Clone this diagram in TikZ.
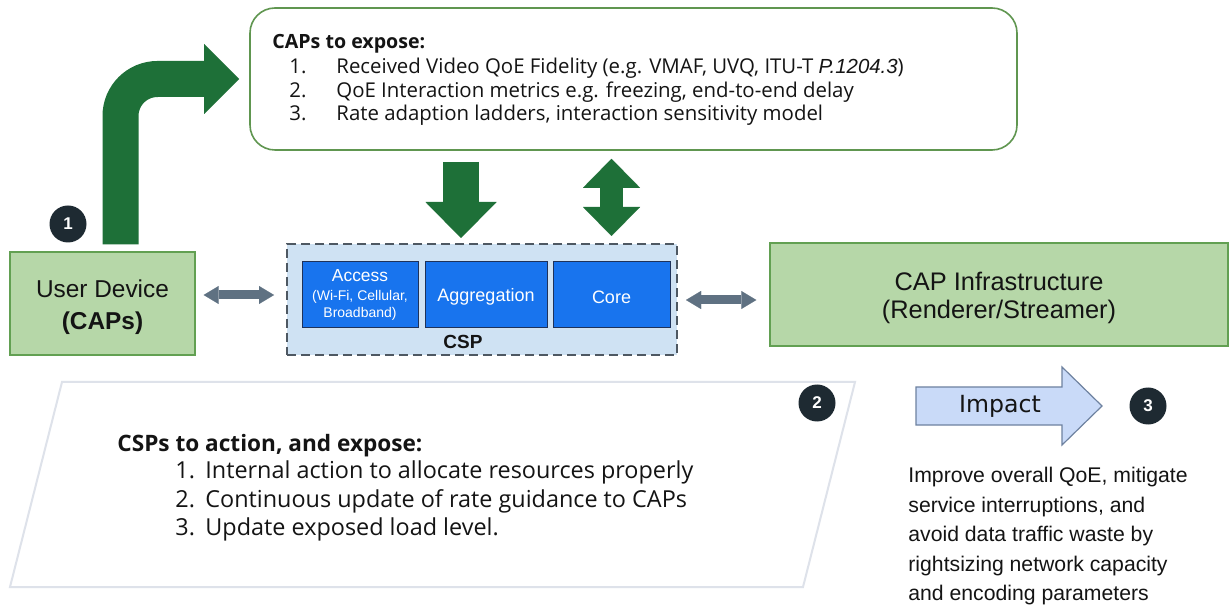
\documentclass[tikz,border=0pt]{standalone}
\usepackage{fontspec}
\setmainfont{Liberation Sans}
\newfontfamily\listfont{Open Sans}
\newfontfamily\impactfont{DejaVu Sans}
\usetikzlibrary{arrows.meta, calc, positioning}

\definecolor{devgreen}{RGB}{182,215,168}
\definecolor{devedge}{RGB}{98,160,82}
\definecolor{boxedge}{RGB}{96,150,80}
\definecolor{arrowgreen}{RGB}{30,112,56}
\definecolor{cspfill}{RGB}{207,226,243}
\definecolor{cspedge}{RGB}{78,88,98}
\definecolor{blockblue}{RGB}{24,116,238}
\definecolor{blockedge}{RGB}{30,50,90}
\definecolor{linkgray}{RGB}{95,113,130}
\definecolor{badgecol}{RGB}{30,42,50}
\definecolor{impactfill}{RGB}{201,218,248}
\definecolor{impactedge}{RGB}{110,130,160}
\definecolor{paraedge}{RGB}{222,226,234}
\definecolor{textdark}{RGB}{20,20,20}

\tikzset{
  greenbox/.style={draw=devedge, fill=devgreen, line width=0.7pt, align=center, inner sep=0pt, text=textdark},
  blockbox/.style={draw=blockedge, fill=blockblue, text=white, line width=0.5pt, align=center, inner sep=0pt, minimum height=33pt},
  badge/.style={circle, fill=badgecol, text=white, minimum size=18.5pt, inner sep=0pt, font=\bfseries\fontsize{8.5}{8.5}\selectfont},
  toplist/.style={anchor=base west, inner sep=0pt, text=textdark, font=\listfont\fontsize{10.2}{11}\selectfont},
  botlist/.style={anchor=base west, inner sep=0pt, text=textdark, font=\listfont\fontsize{11.7}{13}\selectfont},
  linkarrow/.style={draw=linkgray, line width=4.5pt,
    {Triangle[length=7.5pt, width=9pt, line width=0.01pt]}-{Triangle[length=7.5pt, width=9pt, line width=0.01pt]}},
}

\begin{document}
\begin{tikzpicture}[x=0.5pt, y=-0.5pt]
  \fill[white] (0,0) rectangle (1229,608);
  \useasboundingbox (0,0) rectangle (1229,608);

  % what the CAPs expose
  \node[draw=boxedge, line width=0.8pt, rounded corners=12.5pt, minimum width=383.5pt, minimum height=71pt] (expose) at (633.5,79) {};
  \node[toplist, font=\listfont\fontsize{9.8}{11}\selectfont] (exptitle) at (272,49) {\bfseries CAPs to expose:};
  \node[toplist] (expn1) at (289,74) {1.};
  \node[toplist] (expi1) at (336,74) {Received Video QoE Fidelity (e.g. VMAF, UVQ, ITU-T {\rmfamily\itshape P.1204.3})};
  \node[toplist] (expn2) at (289,98) {2.};
  \node[toplist] (expi2) at (336,98) {QoE Interaction metrics e.g. freezing, end-to-end delay};
  \node[toplist] (expn3) at (289,121) {3.};
  \node[toplist] (expi3) at (336,121) {Rate adaption ladders, interaction sensitivity model};

  % the three parties
  \node[greenbox, minimum width=92.5pt, minimum height=51.5pt, font=\fontsize{12.2}{16}\selectfont] (ud) at (102.5,303.5) {\rule{0pt}{13pt}User Device\\\textbf{(CAPs)}};
  \node[draw=cspedge, fill=cspfill, line width=1pt, dash pattern=on 4.5pt off 2.5pt, minimum width=195pt, minimum height=55.5pt] (csp) at (482,299.5) {};
  \node[font=\bfseries\fontsize{9.5}{10}\selectfont, text=textdark, inner sep=0pt] (csplabel) at (463,342) {CSP};
  \node[blockbox, minimum width=58pt, font=\fontsize{7}{8.5}\selectfont] (access) at (360,295) {{\fontsize{8.7}{9.5}\selectfont Access}\\[1pt](Wi-Fi, Cellular,\\Broadband)};
  \node[blockbox, minimum width=61pt, font=\fontsize{9}{10}\selectfont] (agg) at (486,295) {\rule{0pt}{8.5pt}Aggregation};
  \node[blockbox, minimum width=58.5pt, font=\fontsize{9}{10}\selectfont] (core) at (611.5,295) {\rule{0pt}{8.5pt}Core};
  \node[greenbox, minimum width=229pt, minimum height=51.5pt, font=\fontsize{12.7}{14}\selectfont] (cap) at (999,294.5) {\rule{0pt}{13pt}CAP Infrastructure\\(Renderer/Streamer)};

  % links
  \draw[linkarrow, shorten <=4pt, shorten >=6pt] (ud.east |- 0,295) -- (csp.west |- 0,295);
  \draw[linkarrow, shorten <=4pt, shorten >=6.5pt] (csp.east |- 0,300) -- (cap.west |- 0,300);

  % green arrows
  \draw[draw=arrowgreen, line width=18pt, rounded corners=18.5pt, shorten <=3.5pt, shorten >=5pt,
    -{Triangle[length=17.5pt, width=35pt, line width=0.01pt]}] ([xshift=9pt]ud.north) |- (expose.west);
  \draw[draw=arrowgreen, line width=18pt, shorten <=5.5pt, shorten >=2.5pt,
    -{Triangle[length=18pt, width=35.5pt, line width=0.01pt]}] (expose.south -| 461,0) -- (csp.north -| 461,0);
  \draw[draw=arrowgreen, line width=11.5pt, shorten <=4pt, shorten >=3.5pt,
    {Triangle[length=14.5pt, width=28.5pt, line width=0.01pt]}-{Triangle[length=14.5pt, width=28.5pt, line width=0.01pt]}]
    (expose.south -| core.north) -- (csp.north -| core.north);

  % what the CSPs do
  \draw[paraedge, line width=1pt] (62,382) -- (855,382) -- (803,587) -- (10,587) -- cycle;
  \node[botlist, font=\listfont\fontsize{11.3}{13}\selectfont] (acttitle) at (117,451) {\bfseries CSPs to action, and expose:};
  \node[botlist] (actn1) at (175,478) {1.};
  \node[botlist] (acti1) at (205,478) {Internal action to allocate resources properly};
  \node[botlist] (actn2) at (175,507) {2.};
  \node[botlist] (acti2) at (205,507) {Continuous update of rate guidance to CAPs};
  \node[botlist] (actn3) at (175,535) {3.};
  \node[botlist] (acti3) at (205,535) {Update exposed load level.};

  % impact
  \draw[draw=impactedge, fill=impactfill, line width=0.6pt] (916,387) -- (1062,387) -- (1062,367) -- (1102,406) -- (1062,445) -- (1062,425) -- (916,425) -- cycle;
  \node[font=\impactfont\fontsize{11.8}{12}\selectfont, text=textdark, inner sep=0pt] (impact) at (1000,406) {Impact};
  \node[anchor=north west, inner sep=0pt, align=left, text=textdark, font=\fontsize{10.6}{14.75}\selectfont] (gain) at (908,467)
    {Improve overall QoE, mitigate\\service interruptions, and\\avoid data traffic waste by\\rightsizing network capacity\\and encoding parameters};

  % step badges
  \node[badge] (b1) at (68,224) {1};
  \node[badge] (b2) at (817,403) {2};
  \node[badge] (b3) at (1148,406) {3};
\end{tikzpicture}
\end{document}
